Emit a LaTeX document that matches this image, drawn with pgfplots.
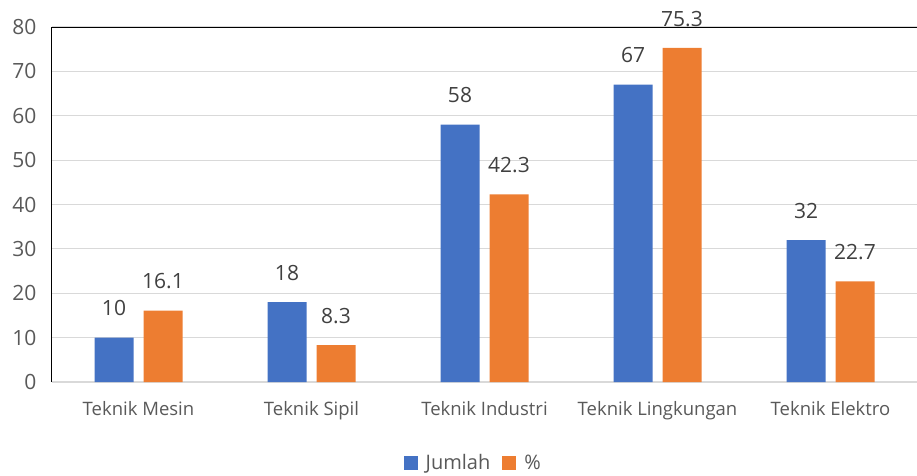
\documentclass[border=0pt]{standalone}
\usepackage{pgfplots}
\pgfplotsset{compat=1.18}
\usepackage{fontspec}
\setmainfont{Open Sans}
\definecolor{cblue}{HTML}{4472C4}
\definecolor{corange}{HTML}{ED7D31}
\definecolor{gridc}{HTML}{D9D9D9}
\definecolor{tickc}{HTML}{595959}
\definecolor{labc}{HTML}{404040}
\begin{document}
\begin{tikzpicture}
\begin{axis}[
  at={(0,0)}, anchor=south west,
  scale only axis, width=865pt, height=355pt,
  ybar=10pt, bar width=39pt,
  xmin=-0.5, xmax=4.5, ymin=0, ymax=80,
  ytick={0,10,...,80},
  xtick={0,1,2,3,4},
  xticklabels={Teknik Mesin,Teknik Sipil,Teknik Industri,Teknik Lingkungan,Teknik Elektro},
  /pgf/number format/assume math mode=true,
  ymajorgrids, grid style={gridc, line width=1.2pt},
  axis x line*=bottom, axis y line*=left,
  x axis line style={draw=none},
  y axis line style={black, line width=1pt, -},
  major tick length=0pt,
  tick style={draw=none},
  yticklabel style={font=\fontsize{21}{24}\selectfont, text=tickc, xshift=-12pt},
  xticklabel style={font=\fontsize{18.5}{21}\selectfont, text=tickc, yshift=-16pt},
  nodes near coords,
  every node near coord/.append style={font=\fontsize{21}{24}\selectfont, text=labc, yshift=18pt},
  clip=false,
  legend style={at={(0.487,-0.228)}, anchor=center, draw=none, fill=none,
    legend columns=2, font=\fontsize{20}{24}\selectfont, text=tickc,
    /tikz/every even column/.append style={column sep=10pt},
    /tikz/every odd column/.append style={column sep=6pt}},
  legend image code/.code={\fill[#1] (0pt,-7pt) rectangle (14pt,7pt);},
]
\addplot[fill=cblue, draw=none] coordinates {(0,10) (1,18) (2,58) (3,67) (4,32)};
\addplot[fill=corange, draw=none] coordinates {(0,16.1) (1,8.3) (2,42.3) (3,75.3) (4,22.7)};
\legend{Jumlah,\%}
\draw[black, line width=1pt] (rel axis cs:0,1) -- (rel axis cs:1,1);
\end{axis}
\pgfresetboundingbox
\path (-52pt,-93pt) rectangle (865pt,382pt);
\end{tikzpicture}
\end{document}
